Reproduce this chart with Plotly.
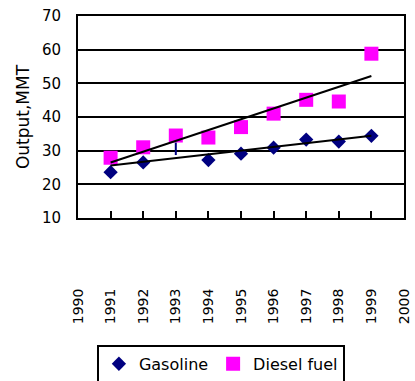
import plotly.graph_objects as go

# ---- data ----
years = [1991, 1992, 1993, 1994, 1995, 1996, 1997, 1998, 1999]
gasoline = [23.6, 26.5, None, 27.2, 29.1, 30.9, 33.3, 32.7, 34.4]
diesel = [27.9, 31.0, 34.5, 33.9, 37.0, 41.0, 45.1, 44.6, 58.8]

trend_years = [1991, 1999]
gasoline_trend = [25.6, 34.4]
diesel_trend = [26.5, 52.2]

# small stray navy stroke at 1993 in the gasoline series
gas_1993_x = [1993, 1993]
gas_1993_y = [28.7, 32.4]

x_tickvals = list(range(1990, 2001))
x_ticktext = [str(v) for v in x_tickvals]
y_tickvals = [10, 20, 30, 40, 50, 60, 70]

FONT = "DejaVu Sans"

fig = go.Figure()

fig.add_trace(go.Scatter(
    x=years, y=gasoline, mode="markers", name="Gasoline",
    marker=dict(symbol="diamond", size=11, color="#000080", line=dict(width=0)),
))
fig.add_trace(go.Scatter(
    x=years, y=diesel, mode="markers", name="Diesel fuel",
    marker=dict(symbol="square", size=14, color="#FF00FF", line=dict(width=0)),
))
fig.add_trace(go.Scatter(
    x=gas_1993_x, y=gas_1993_y, mode="lines", showlegend=False,
    line=dict(color="#000080", width=2), hoverinfo="skip",
))
fig.add_trace(go.Scatter(
    x=trend_years, y=gasoline_trend, mode="lines", showlegend=False,
    line=dict(color="black", width=2), hoverinfo="skip",
))
fig.add_trace(go.Scatter(
    x=trend_years, y=diesel_trend, mode="lines", showlegend=False,
    line=dict(color="black", width=2), hoverinfo="skip",
))

fig.update_layout(
    width=415, height=381,
    margin=dict(l=78, r=11, t=16, b=163, autoexpand=False),
    paper_bgcolor="white", plot_bgcolor="white",
    font=dict(family=FONT, color="black"),
    showlegend=True,
    legend=dict(
        orientation="h", x=0.058, xanchor="left", y=-0.628, yanchor="top",
        bordercolor="black", borderwidth=2, bgcolor="white",
        font=dict(family=FONT, size=16, color="black"),
        itemwidth=30,
    ),
    xaxis=dict(
        range=[1990, 2000], tickmode="array", tickvals=x_tickvals, ticktext=x_ticktext,
        tickangle=-90, ticks="inside", ticklen=7, tickwidth=2, tickcolor="black",
        showgrid=False, zeroline=False, automargin=False,
        showline=True, linecolor="black", linewidth=2, mirror=True,
        tickfont=dict(family=FONT, size=14, color="black"),
        ticklabelstandoff=63,
    ),
    yaxis=dict(
        range=[10, 70], tickmode="array", tickvals=y_tickvals,
        ticks="", showgrid=True, gridcolor="black", gridwidth=2,
        zeroline=False, automargin=False,
        showline=True, linecolor="black", linewidth=2, mirror=True,
        tickfont=dict(family=FONT, size=15, color="black"),
        ticklabelstandoff=12,
        title=dict(text="Output,MMT", font=dict(family=FONT, size=17, color="black"), standoff=8),
    ),
)

fig.write_html(
    "out.html",
    config={"displayModeBar": False},
    post_script="document.body.style.margin='0px';document.body.style.overflow='hidden';",
)
